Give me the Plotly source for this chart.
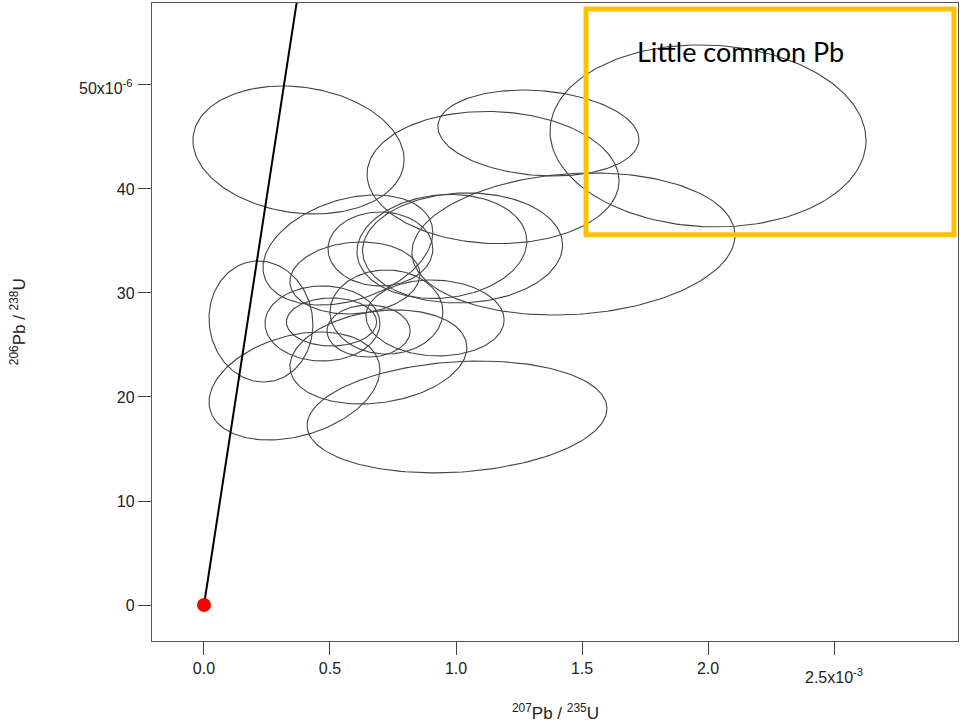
import numpy as np
import plotly.graph_objects as go

# ---- data (207Pb/235U in 1e-3, 206Pb/238U in 1e-6) ----
ell_x   = [0.375, 1.327, 2.000, 1.147, 1.466, 0.571, 0.700, 0.599, 0.944, 1.026,
           0.917, 0.724, 0.470, 0.506, 0.653, 0.692, 0.359, 1.004, 0.226]
ell_y   = [43.75, 45.38, 45.10, 41.10, 34.71, 34.13, 34.23, 31.44, 34.47, 34.33,
           27.60, 28.17, 27.07, 27.21, 26.35, 23.85, 21.06, 18.08, 27.26]
ell_sx  = [0.419, 0.399, 0.627, 0.500, 0.641, 0.337, 0.208, 0.258, 0.337, 0.397,
           0.274, 0.224, 0.228, 0.179, 0.165, 0.351, 0.339, 0.595, 0.206]
ell_sy  = [6.15, 4.13, 8.75, 6.35, 6.83, 5.29, 3.56, 3.46, 5.00, 5.29,
           3.65, 4.04, 3.61, 2.31, 2.50, 4.52, 5.19, 5.38, 5.82]
ell_rho = [-0.15, -0.15, -0.05, -0.05, 0.12, 0.32, 0.0, 0.10, 0.10, 0.05,
           -0.05, 0.0, 0.0, 0.0, 0.0, 0.20, 0.30, 0.15, -0.05]

concordia_x = [0.0, 0.40]
concordia_y = [0.0, 63.0]
origin_x = [0.0]
origin_y = [0.0]

x_tickvals = [0.0, 0.5, 1.0, 1.5, 2.0, 2.5]
x_ticktext = ["0.0", "0.5", "1.0", "1.5", "2.0", ""]
x_last_label = "2.5x10<sup>-3</sup>"
y_tickvals = [0, 10, 20, 30, 40, 50]
y_ticktext = ["0", "10", "20", "30", "40", ""]
y_last_label = "50x10<sup>-6</sup>"

box_x = [1.516, 2.976]
box_y = [35.6, 57.3]
box_label = "Little common Pb"
label_x = 2.13
label_y = 53.2

tick_font = dict(family="Liberation Sans, Arial", size=16, color="#222222")

fig = go.Figure()

t = np.linspace(0, 2 * np.pi, 181)
for cx, cy, sx, sy, r in zip(ell_x, ell_y, ell_sx, ell_sy, ell_rho):
    xs = cx + sx * np.cos(t)
    ys = cy + sy * (r * np.cos(t) + np.sqrt(1 - r * r) * np.sin(t))
    fig.add_trace(go.Scatter(x=xs, y=ys, mode="lines",
                             line=dict(color="#444444", width=1.1),
                             hoverinfo="skip", showlegend=False))

fig.add_trace(go.Scatter(x=concordia_x, y=concordia_y, mode="lines",
                         line=dict(color="black", width=2), showlegend=False))
fig.add_trace(go.Scatter(x=origin_x, y=origin_y, mode="markers",
                         marker=dict(color="red", size=14), showlegend=False,
                         cliponaxis=False))

fig.add_shape(type="rect", xref="x", yref="y",
              x0=box_x[0], x1=box_x[1], y0=box_y[0], y1=box_y[1],
              line=dict(color="#FFC000", width=5))
fig.add_annotation(x=label_x, y=label_y, xref="x", yref="y",
                   text=box_label, showarrow=False,
                   font=dict(family="Lato", size=27, color="black"))

axis_common = dict(showgrid=False, zeroline=False, showline=True, mirror=True,
                   linecolor="#555555", linewidth=1.3, ticks="outside",
                   ticklen=13, tickwidth=1.2, tickcolor="#444444",
                   tickfont=tick_font)

fig.update_xaxes(range=[-0.2063, 2.992], tickvals=x_tickvals, ticktext=x_ticktext,
                 **axis_common)
fig.update_yaxes(range=[-3.46, 57.88], tickvals=y_tickvals, ticktext=y_ticktext,
                 **axis_common)

# exponent tick labels (placed like the R plot: slightly offset)
fig.add_annotation(x=x_tickvals[-1], xref="x", yref="paper", y=-0.036,
                   yanchor="top", xanchor="center", showarrow=False,
                   text=x_last_label, font=tick_font)
fig.add_annotation(x=-0.0236, xref="paper", y=y_tickvals[-1], yref="y",
                   xanchor="right", yanchor="middle", yshift=-2, xshift=2,
                   showarrow=False, text=y_last_label, font=tick_font)

fig.add_annotation(xref="paper", yref="paper", x=0.5, y=-0.111,
                   text="<sup>207</sup>Pb / <sup>235</sup>U", showarrow=False,
                   yanchor="middle",
                   font=dict(family="Liberation Sans, Arial", size=17, color="#222222"))
fig.add_annotation(xref="paper", yref="paper", x=-0.166, y=0.5,
                   text="<sup>206</sup>Pb / <sup>238</sup>U", showarrow=False,
                   textangle=-90, xanchor="center",
                   font=dict(family="Liberation Sans, Arial", size=17, color="#222222"))

fig.update_layout(width=960, height=726, margin=dict(l=152, r=2, t=3, b=85),
                  plot_bgcolor="white", paper_bgcolor="white")

fig.write_html("out.html", config={"displayModeBar": False},
               post_script="document.body.style.margin='0px';document.body.style.overflow='hidden';")
